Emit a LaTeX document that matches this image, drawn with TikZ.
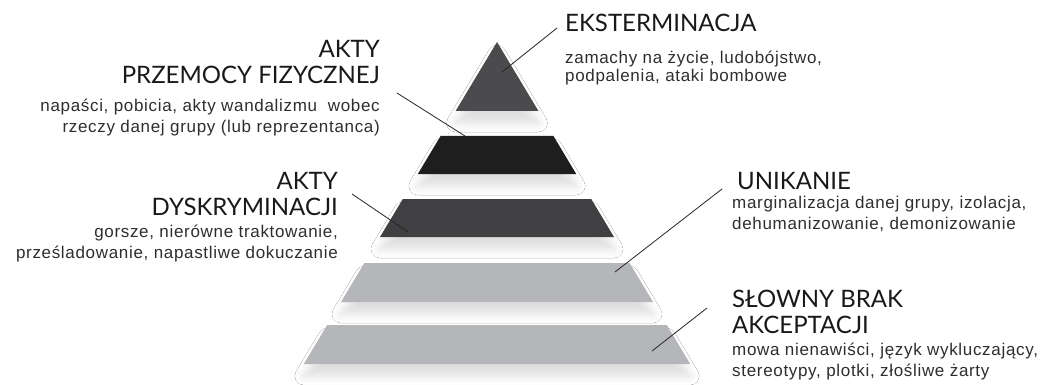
\documentclass[tikz,border=0pt]{standalone}
\usepackage{fontspec}
\setmainfont{Liberation Sans}[LetterSpace=4]
\newfontfamily\titlefont{Lato}
\usetikzlibrary{shadows.blur}

\definecolor{lvlA}{HTML}{4B4B4D}
\definecolor{lvlB}{HTML}{1E1E1E}
\definecolor{lvlC}{HTML}{404042}
\definecolor{lvlD}{HTML}{B5B6B9}
\definecolor{txtgray}{HTML}{2E2E2E}

\tikzset{
  layer/.style={draw=none, blur shadow={shadow xshift=0pt, shadow yshift=-12pt,
      shadow blur radius=9pt, shadow opacity=13}},
  ttl/.style={font=\titlefont\fontsize{24}{26}\selectfont, text=black!90, inner sep=0pt},
  dsc/.style={font=\fontsize{17}{21}\selectfont, text=txtgray, inner sep=0pt},
  pin/.style={draw=black!85, line width=0.8pt}
}

\begin{document}
\begin{tikzpicture}[x=1pt, y=-1pt]
    \useasboundingbox[fill=white] (0,0) rectangle (1044,385);

    % pyramid, apex at (497,42), half width = 0.6*(y-42)
    \fill[layer, lvlA] (497,42) -- (538.4,111) -- (455.6,111) -- cycle;
    \fill[layer, lvlB] (440.6,136) -- (553.4,136) -- (576.2,174) -- (417.8,174) -- cycle;
    \fill[layer, lvlC] (402.8,199) -- (591.2,199) -- (614,237) -- (380,237) -- cycle;
    \fill[layer, lvlD] (364.4,263) -- (629.6,263) -- (653,302) -- (341,302) -- cycle;
    \fill[layer, lvlD] (327.2,325) -- (666.8,325) -- (690.2,364) -- (303.8,364) -- cycle;

    % pin ends inside the layers
    \coordinate (pA) at (502,72);
    \coordinate (pB) at (465,136);
    \coordinate (pC) at (408,232);
    \coordinate (pD) at (615,272);
    \coordinate (pE) at (652,351);

    % labels (base = last line)
    \node [ttl, anchor=base west] (eksT) at (565,32) {EKSTERMINACJA};
    \node [dsc, anchor=base west, align=left] (eksD) at (565,82)
        {zamachy na życie, ludobójstwo,\\[-3pt]podpalenia, ataki bombowe};

    \node [ttl, anchor=base east, align=right] (przT) at (380,84)
        {AKTY\\PRZEMOCY FIZYCZNEJ};
    \node [dsc, anchor=base east, align=right] (przD) at (380,133)
        {napaści, pobicia, akty wandalizmu\ \ wobec\\rzeczy danej grupy (lub reprezentanca)};

    \node [ttl, anchor=base east, align=right] (dysT) at (338,215)
        {AKTY\\DYSKRYMINACJI};
    \node [dsc, anchor=base east, align=right] (dysD) at (338,258)
        {gorsze, nierówne traktowanie,\\prześladowanie, napastliwe dokuczanie};

    \node [ttl, anchor=base west] (uniT) at (737,189) {UNIKANIE};
    \node [dsc, anchor=base west, align=left] (uniD) at (732,229)
        {marginalizacja danej grupy, izolacja,\\dehumanizowanie, demonizowanie};

    \node [ttl, anchor=base west, align=left] (sloT) at (732,333)
        {SŁOWNY BRAK\\AKCEPTACJI};
    \node [dsc, anchor=base west, align=left] (sloD) at (732,376)
        {mowa nienawiści, język wykluczający,\\stereotypy, plotki, złośliwe żarty};

    % free ends of the pins, next to the labels
    \coordinate (qA) at (557,28);
    \coordinate (qB) at (397,93);
    \coordinate (qC) at (352,194);
    \coordinate (qD) at (722,189);
    \coordinate (qE) at (707,308);

    \draw[pin] (qA) -- (pA);
    \draw[pin] (qB) -- (pB);
    \draw[pin] (qC) -- (pC);
    \draw[pin] (qD) -- (pD);
    \draw[pin] (qE) -- (pE);
\end{tikzpicture}
\end{document}
